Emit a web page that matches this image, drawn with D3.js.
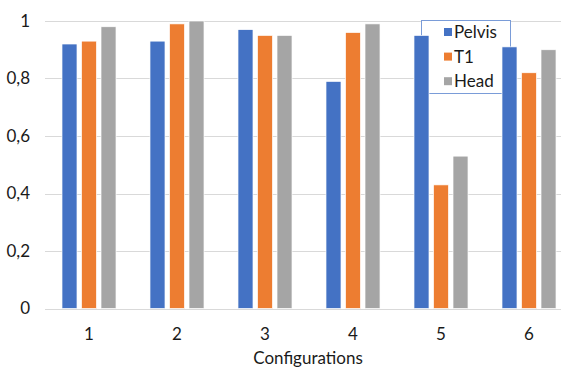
<!DOCTYPE html>
<html>
<head>
<meta charset="utf-8">
<script src="https://cdn.jsdelivr.net/npm/d3@7/dist/d3.min.js"></script>
<style>
  html, body { margin: 0; padding: 0; background: #fff; }
  svg { display: block; font-family: Lato, "Open Sans", sans-serif; }
</style>
</head>
<body>
<svg id="chart" width="561" height="370"></svg>
<script>
// Category labels and per-series values
const categories = ["1", "2", "3", "4", "5", "6"];
const seriesNames = ["Pelvis", "T1", "Head"];
const pelvis = [0.92, 0.93, 0.97, 0.79, 0.95, 0.91];
const t1     = [0.93, 0.99, 0.95, 0.96, 0.43, 0.82];
const head   = [0.98, 1.00, 0.95, 0.99, 0.53, 0.90];
const yTicks = [0, 0.2, 0.4, 0.6, 0.8, 1];
const colors = ["#4472C4", "#ED7D31", "#A5A5A5"];

const seriesValues = [pelvis, t1, head];
const rows = categories.map((c, i) => ({
  cat: c,
  vals: seriesNames.map((s, j) => ({ key: s, value: seriesValues[j][i] }))
}));

const svg = d3.select("#chart");
const fontSize = 17;

const x0 = d3.scaleBand()
  .domain(categories)
  .range([45, 573])
  .paddingInner(0.386)
  .paddingOuter(0.193);

const x1 = d3.scaleBand()
  .domain(seriesNames)
  .range([0, x0.bandwidth()])
  .paddingInner(0.23);

const y = d3.scaleLinear().domain([0, 1]).range([308.5, 21]);
const color = d3.scaleOrdinal().domain(seriesNames).range(colors);

// Horizontal gridlines
svg.append("g")
  .selectAll("line")
  .data(yTicks)
  .join("line")
  .attr("x1", 45)
  .attr("x2", 561)
  .attr("y1", d => Math.round(y(d)) + 0.5)
  .attr("y2", d => Math.round(y(d)) + 0.5)
  .attr("stroke", "#d9d9d9")
  .attr("stroke-width", 1);

// Y axis labels
const fmt = d => String(d).replace(".", ",");
svg.append("g")
  .selectAll("text")
  .data(yTicks)
  .join("text")
  .attr("x", 30)
  .attr("y", d => y(d))
  .attr("dy", "0.35em")
  .attr("text-anchor", "end")
  .attr("font-size", fontSize)
  .attr("fill", "#1a1a1a")
  .text(fmt);

// Legend box (sits beneath the bars)
const legend = svg.append("g");
legend.append("rect")
  .attr("x", 421.5)
  .attr("y", 20.5)
  .attr("width", 89)
  .attr("height", 73)
  .attr("fill", "#fff")
  .attr("stroke", "#7a9cd8")
  .attr("stroke-width", 1);
const li = legend.selectAll("g.item")
  .data(seriesNames)
  .join("g")
  .attr("class", "item")
  .attr("transform", (d, i) => `translate(444, ${32 + i * 24.6})`);
li.append("rect")
  .attr("x", 0)
  .attr("y", -4)
  .attr("width", 8)
  .attr("height", 8)
  .attr("fill", d => color(d));
li.append("text")
  .attr("x", 10)
  .attr("y", 0)
  .attr("dy", "0.36em")
  .attr("font-size", fontSize)
  .attr("fill", "#1a1a1a")
  .text(d => d);

// Bars
svg.append("g")
  .selectAll("g")
  .data(rows)
  .join("g")
  .attr("transform", d => `translate(${x0(d.cat)},0)`)
  .selectAll("rect")
  .data(d => d.vals)
  .join("rect")
  .attr("x", d => x1(d.key))
  .attr("y", d => y(d.value))
  .attr("width", x1.bandwidth())
  .attr("height", d => y(0) - y(d.value))
  .attr("fill", d => color(d.key))
  .attr("stroke", "#fff")
  .attr("stroke-width", 0.7);

// X axis baseline
svg.append("line")
  .attr("x1", 45).attr("x2", 561)
  .attr("y1", Math.round(y(0)) + 0.5).attr("y2", Math.round(y(0)) + 0.5)
  .attr("stroke", "#d9d9d9");

// X axis labels
svg.append("g")
  .selectAll("text")
  .data(categories)
  .join("text")
  .attr("x", d => x0(d) + x0.bandwidth() / 2)
  .attr("y", 340)
  .attr("text-anchor", "middle")
  .attr("font-size", fontSize)
  .attr("fill", "#1a1a1a")
  .text(d => d);

// Axis title
svg.append("text")
  .attr("x", 308)
  .attr("y", 364)
  .attr("text-anchor", "middle")
  .attr("font-size", fontSize)
  .attr("fill", "#1a1a1a")
  .text("Configurations");
</script>
</body>
</html>
